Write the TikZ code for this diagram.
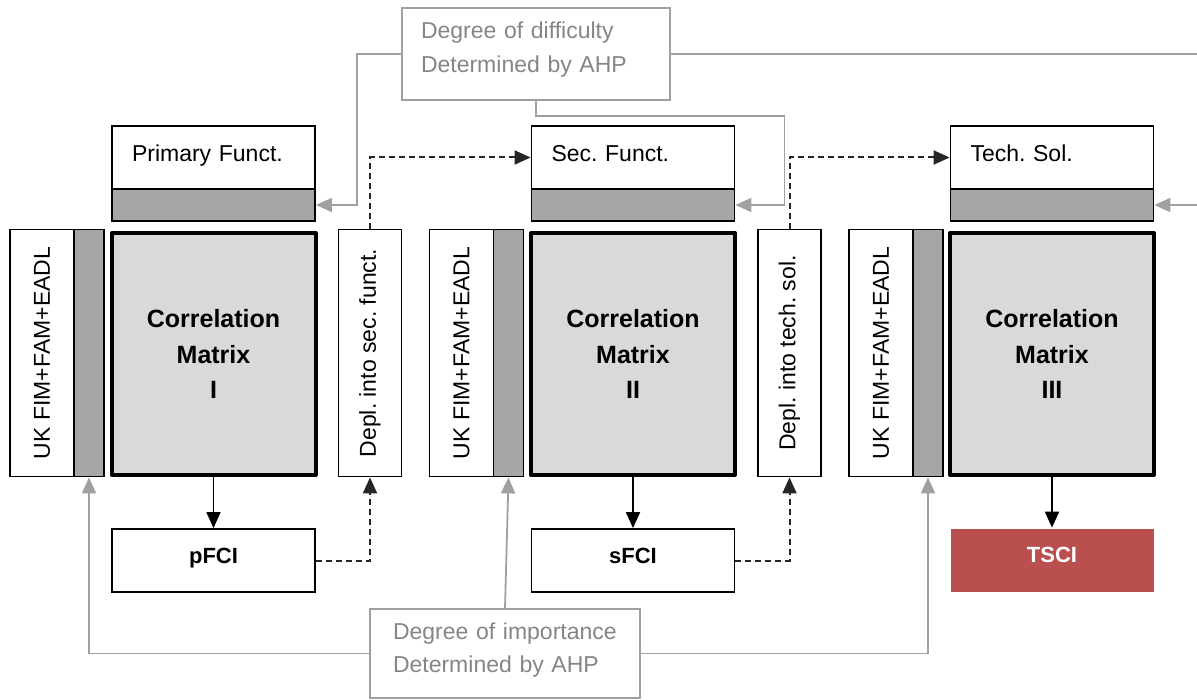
\documentclass[tikz,border=0pt]{standalone}
\usepackage{fontspec}
\setmainfont{Liberation Sans}
\usetikzlibrary{arrows.meta}
\frenchspacing

\definecolor{stripgray}{HTML}{A6A6A6}
\definecolor{matfill}{HTML}{D9D9D9}
\definecolor{ahpline}{HTML}{A0A0A0}
\definecolor{ahptext}{HTML}{858585}
\definecolor{tscired}{HTML}{B94F4F}

\tikzset{
  thinbox/.style={draw=black, line width=1.8pt, inner sep=0pt,
    font=\fontsize{23}{34}\selectfont},
  fwhite/.style={thinbox, fill=white, minimum width=203pt, minimum height=63pt,
    inner xsep=20pt, text width=163pt, align=left, text height=17pt, text depth=9pt},
  fgray/.style={thinbox, fill=stripgray, minimum width=203pt, minimum height=32pt},
  ukwhite/.style={thinbox, rotate=90, minimum width=247pt, minimum height=64pt},
  ukstrip/.style={thinbox, fill=stripgray, minimum width=30pt, minimum height=247pt},
  deplbox/.style={thinbox, rotate=90, minimum width=247pt, minimum height=63pt},
  matbox/.style={draw=black, line width=4pt, line join=round, fill=matfill,
    minimum width=204pt, minimum height=242pt, align=center,
    font=\fontsize{25}{35.5}\selectfont\bfseries},
  resbox/.style={thinbox, minimum width=203pt, minimum height=63pt,
    font=\fontsize{22}{26}\selectfont\bfseries, text height=16pt, text depth=11pt},
  tscibox/.style={resbox, draw=none, fill=tscired, text=white},
  ahpbox/.style={draw=ahpline, line width=1.8pt, text=ahptext, align=left,
    inner ysep=0pt, font=\fontsize{23}{34}\selectfont},
  ahparrow/.style={draw=ahpline, line width=1.8pt,
    -{Triangle[length=16pt,width=14pt]}},
  flow/.style={draw=black, line width=1.8pt, -{Triangle[length=16pt,width=14pt]}},
  deplflow/.style={draw=black!85, line width=2pt, dash pattern=on 6pt off 4pt,
    -{Triangle[length=16pt,width=14pt]}}
}

\begin{document}
\begin{tikzpicture}[x=1pt,y=-1pt]
    \useasboundingbox (0,0) rectangle (1197,700);

    %AHP boxes
    \node[ahpbox, inner xsep=19pt, text width=230pt, minimum height=92pt,
        text height=16.8pt, text depth=46.8pt] (diff)
        at (536,54) {Degree of difficulty\\Determined by AHP};
    \node[ahpbox, inner xsep=23pt, text width=224pt, minimum height=89pt,
        text height=16.8pt, text depth=45.8pt] (imp)
        at (505,653.5) {Degree of importance\\[-1pt]Determined by AHP};

    %stage I
    \node[fwhite] (fw1) at (213.5,157.5) {Primary Funct.};
    \node[fgray] (fg1) at (213.5,205) {};
    \node[ukwhite] (uk1) at (42,353) {UK FIM+FAM+EADL};
    \node[ukstrip] (uks1) at (89,353) {};
    \node[matbox] (cm1) at (213.5,354) {Correlation\\Matrix\\I};
    \node[deplbox] (dp1) at (370,353) {Depl. into sec. funct.};
    \node[resbox] (res1) at (213.5,560.5) {pFCI};

    %stage II
    \node[fwhite] (fw2) at (633,157.5) {Sec. Funct.};
    \node[fgray] (fg2) at (633,205) {};
    \node[ukwhite] (uk2) at (461.5,353) {UK FIM+FAM+EADL};
    \node[ukstrip] (uks2) at (508.5,353) {};
    \node[matbox] (cm2) at (633,354) {Correlation\\Matrix\\II};
    \node[deplbox] (dp2) at (789.5,353) {Depl. into tech. sol.};
    \node[resbox] (res2) at (633,560.5) {sFCI};

    %stage III
    \node[fwhite] (fw3) at (1052,157.5) {Tech. Sol.};
    \node[fgray] (fg3) at (1052,205) {};
    \node[ukwhite] (uk3) at (881,353) {UK FIM+FAM+EADL};
    \node[ukstrip] (uks3) at (928,353) {};
    \node[matbox] (cm3) at (1052,354) {Correlation\\Matrix\\III};
    \node[tscibox] (res3) at (1052,560) {TSCI};

    %matrix results
    \draw[flow] (cm1.south) -- (res1.north);
    \draw[flow] (cm2.south) -- (res2.north);
    \draw[flow] (cm3.south) -- (res3.north);

    %deployment (rotated boxes: west is the bottom, east the top)
    \draw[deplflow] (res1.east) -| (dp1.west);
    \draw[deplflow] (dp1.east) |- (fw2.west);
    \draw[deplflow] (res2.east) -| (dp2.west);
    \draw[deplflow] (dp2.east) |- (fw3.west);

    %difficulty weights
    \draw[ahparrow] (diff.west) -- ++(-44,0) |- (fg1.east);
    \draw[ahparrow] (diff.south) -- ++(0,15) -| ([xshift=49pt]fg2.east) -- (fg2.east);
    \draw[ahparrow] (diff.east) -| ([xshift=70pt]fg3.east) -- (fg3.east);

    %importance weights
    \draw[ahparrow] (imp.west) -| (uks1.south);
    \draw[ahparrow] (imp.north) -- (uks2.south);
    \draw[ahparrow] (imp.east) -| (uks3.south);
\end{tikzpicture}
\end{document}
